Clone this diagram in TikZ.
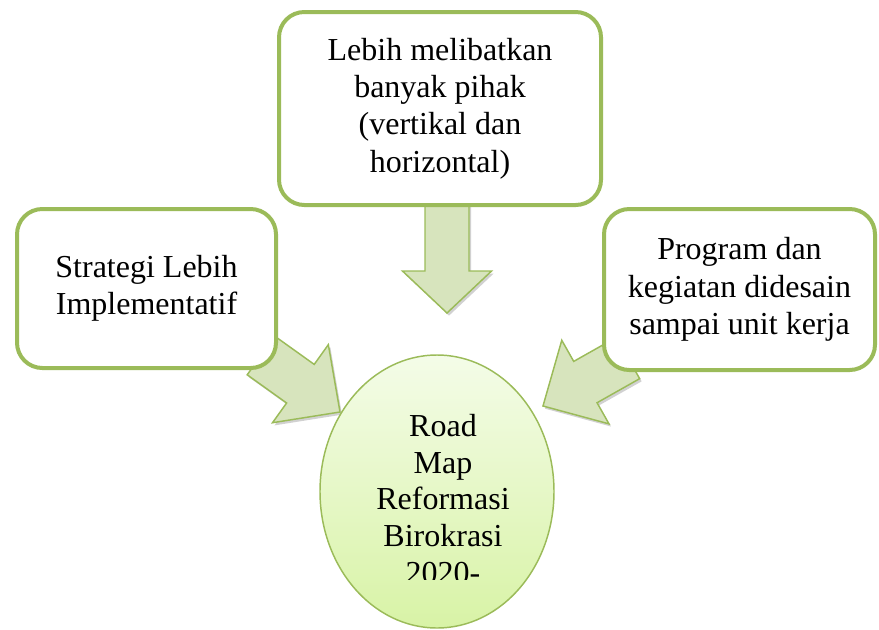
\documentclass[tikz,border=0pt]{standalone}
\usepackage{fontspec}
\setmainfont{Liberation Serif}
\usetikzlibrary{calc,shapes.geometric,shadows}
\definecolor{leafline}{HTML}{9BBB59}
\definecolor{leaffill}{HTML}{D7E4BD}
\definecolor{hubtop}{HTML}{F4FCE8}
\definecolor{hubbottom}{HTML}{D8F3A6}

% block arrow: tail, tip, shaft half width, head half width, head length
\newcommand{\blockarrow}[5]{%
  \coordinate (#2-base) at ($(#2)!#5!(#1)$);
  \draw[flow] ($(#1)!#3!90:(#2)$) -- ($(#2-base)!#3!-90:(#1)$)
    -- ($(#2-base)!#4!-90:(#1)$) -- (#2) -- ($(#2-base)!#4!90:(#1)$)
    -- ($(#2-base)!#3!90:(#1)$) -- ($(#1)!#3!-90:(#2)$) -- cycle;}

\begin{document}
\begin{tikzpicture}[
  x=0.75pt, y=-0.75pt,
  card/.style={draw=leafline, line width=3pt, fill=white, rounded corners=19pt,
               align=center, font=\fontsize{24}{28}\selectfont, inner sep=0pt},
  flow/.style={draw=leafline, line width=1.1pt, fill=leaffill,
               drop shadow={shadow xshift=1.5pt, shadow yshift=-2pt, opacity=.18, fill=black}},
  hub/.style={ellipse, draw=leafline, line width=1.1pt, top color=hubtop,
              bottom color=hubbottom, minimum width=175.5pt, minimum height=204.75pt},
  hubtext/.style={align=center, font=\fontsize{24}{27.5}\selectfont, inner sep=0pt}
]
  \useasboundingbox (0,0) rectangle (879,629);

  \coordinate (down-tail) at (447,200);
  \coordinate (down-tip) at (447,313);
  \coordinate (left-tail) at (261,355.5);
  \coordinate (left-tip) at (340,412);
  \coordinate (right-tail) at (628,358);
  \coordinate (right-tip) at (543,406);

  \blockarrow{down-tail}{down-tip}{16.5pt}{33.4pt}{31.5pt}
  \blockarrow{left-tail}{left-tip}{17.8pt}{36pt}{36.5pt}
  \blockarrow{right-tail}{right-tip}{17.8pt}{36pt}{36.5pt}

  \node[card, minimum width=241.5pt, minimum height=144.75pt] (pihak) at (440,108.5)
    {Lebih melibatkan\\banyak pihak\\(vertikal dan\\horizontal)};
  \node[card, minimum width=194.25pt, minimum height=119.25pt] (strategi) at (146.5,288.5)
    {Strategi Lebih\\Implementatif};
  \node[card, minimum width=203.25pt, minimum height=120.75pt] (program) at (739.5,289.5)
    {Program dan\\kegiatan didesain\\sampai unit kerja};

  \node[hub] (roadmap) at (437,491.5) {};
  \begin{scope}
    \clip (300,340) rectangle (580,579);
    \node[hubtext, anchor=north] (roadtext) at (443,414)
      {Road\\Map\\Reformasi\\Birokrasi\\2020-};
  \end{scope}
\end{tikzpicture}
\end{document}
